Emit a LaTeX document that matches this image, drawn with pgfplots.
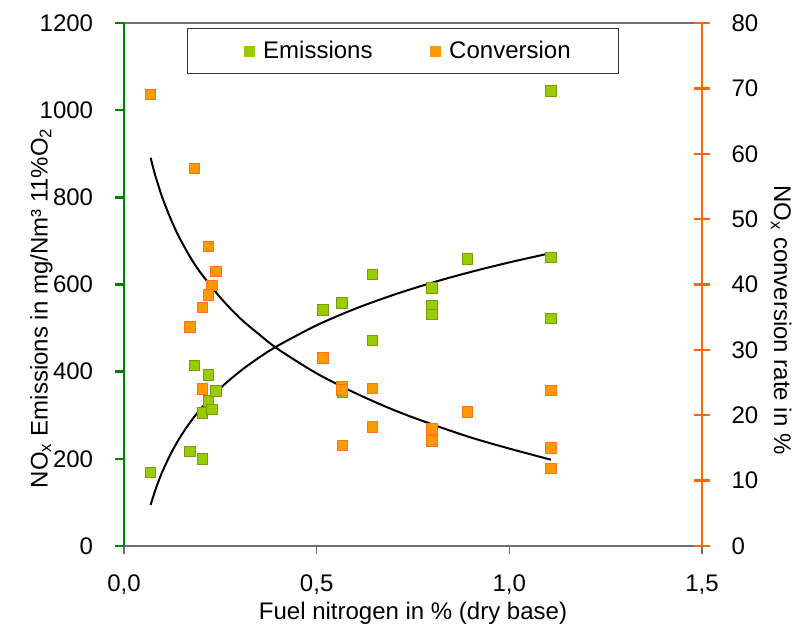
\documentclass[border=0pt]{standalone}
\usepackage{fontspec}
\setmainfont{Liberation Sans}
\usepackage{pgfplots}
\pgfplotsset{compat=1.18}
\definecolor{axgreen}{HTML}{008000}
\definecolor{axorange}{HTML}{FF6600}
\definecolor{axgray}{HTML}{707070}
\definecolor{mkgreen}{HTML}{99CC00}
\definecolor{mkgreenb}{HTML}{7A9A10}
\definecolor{mkorange}{HTML}{FF9900}
\definecolor{mkorangeb}{HTML}{FF7020}
\begin{document}
\fontsize{18}{21.6}\selectfont
\begin{tikzpicture}
\useasboundingbox (-93pt,-64.5pt) rectangle (507pt,409.5pt);
\pgfplotsset{
 common/.style={
  scale only axis, width=433.5pt, height=392.25pt, at={(0pt,0pt)}, anchor=south west,
  xmin=0, xmax=1.5,
  /pgf/number format/assume math mode=true,
 }
}
% x axis (bottom and top lines, gray ticks)
\begin{axis}[common,
  ymin=0, ymax=1,
  axis x line*=box, axis y line=none,
  xtick={0,0.5,1,1.5}, xticklabels={{0,0},{0,5},{1,0},{1,5}},
  xtick pos=left,
  x axis line style={axgray, line width=1.4pt, -},
  every tick/.style={axgray, line width=1pt},
  tick align=outside, major tick length=6pt,
  xticklabel style={anchor=base, inner sep=0pt, yshift=-27.75pt},
  xlabel={Fuel nitrogen in \% (dry base)},
  xlabel style={at={(axis description cs:0.5,-0.1396)}, anchor=base},
]
\end{axis}
% left axis: emissions
\begin{axis}[common,
  ymin=0, ymax=1200,
  axis x line=none, axis y line*=left,
  ytick pos=left,
  ytick={0,200,400,600,800,1000,1200},
  yticklabels={0,200,400,600,800,1000,1200},
  y axis line style={axgreen, line width=1.4pt, -},
  every tick/.style={axgreen, line width=1.8pt},
  tick align=outside, major tick length=6.5pt,
  yticklabel style={anchor=east, inner sep=0pt, xshift=-16.5pt},
  ylabel={NO\textsubscript{x} Emissions in mg/Nm³ 11\%O\textsubscript{2}},
  ylabel style={at={(axis description cs:-0.143,0.455)}, anchor=center},
]
\addplot[only marks, mark=square*, mark size=3.9pt,
  mark options={fill=mkgreen, draw=mkgreenb, line width=0.6pt}]
  coordinates {
  (0.069,169) (0.171,217) (0.183,414) (0.203,305) (0.203,200) (0.219,393)
  (0.219,333) (0.228,314) (0.239,356) (0.516,542) (0.565,558) (0.567,352)
  (0.645,623) (0.645,472) (0.799,592) (0.799,552) (0.799,532) (0.891,659)
  (1.108,1044) (1.108,662) (1.108,522)
  };
\addplot[black, line width=1.5pt, no marks, smooth]
  coordinates {
  (0.069,94.1) (0.08,124.8) (0.09,149.4) (0.1,171.3) (0.12,209.3) (0.14,241.4)
  (0.16,269.2) (0.18,293.7) (0.2,315.6) (0.25,362.1) (0.3,400.0) (0.35,432.1)
  (0.4,459.9) (0.5,506.4) (0.6,544.4) (0.7,576.4) (0.8,604.3) (0.9,628.8)
  (1.0,650.7) (1.108,672.1)
  };
\end{axis}
% right axis: conversion
\begin{axis}[common,
  ymin=0, ymax=80,
  axis x line=none, axis y line*=right,
  ytick pos=right,
  ytick={0,10,20,30,40,50,60,70,80},
  yticklabels={0,10,20,30,40,50,60,70,80},
  y axis line style={axorange, line width=1.4pt, -},
  every tick/.style={axorange, line width=1.8pt},
  tick align=center, major tick length=12pt,
  yticklabel style={anchor=west, inner sep=0pt, xshift=16pt},
  ylabel={NO\textsubscript{x} conversion rate in \%},
  ylabel style={at={(axis description cs:1.137,0.432)}, anchor=center, rotate=180},
  legend columns=2,
  legend style={at={(axis description cs:0.1095,0.9899)}, anchor=north west,
    draw=black!80, line width=0.9pt, inner xsep=34pt, inner ysep=6.9pt,
    /tikz/every even column/.append style={column sep=33pt}},
]
\addlegendimage{legend image code/.code={\path (-7.8pt,0pt) (11.8pt,0pt); \fill[mkgreen] (0pt,-3.6pt) rectangle (7.3pt,3.6pt);}}
\addlegendentry{Emissions}
\addlegendimage{legend image code/.code={\path (-7.8pt,0pt) (11.8pt,0pt); \fill[mkorange] (0pt,-3.6pt) rectangle (7.3pt,3.6pt);}}
\addlegendentry{Conversion}
\addplot[forget plot, only marks, mark=square*, mark size=3.9pt,
  mark options={fill=mkorange, draw=mkorangeb, line width=0.6pt}]
  coordinates {
  (0.069,69.1) (0.183,57.8) (0.219,45.8) (0.239,42.0) (0.228,39.9) (0.219,38.4)
  (0.203,36.5) (0.171,33.5) (0.203,24.0) (0.516,28.8) (0.565,24.4) (0.565,23.9)
  (0.645,24.1) (0.645,18.2) (0.567,15.4) (0.799,17.9) (0.799,16.1) (0.891,20.5)
  (1.108,23.8) (1.108,15.0) (1.108,11.9)
  };
\addplot[forget plot, black, line width=1.5pt, no marks, smooth]
  coordinates {
  (0.069,59.4) (0.08,56.9) (0.09,55.0) (0.1,53.2) (0.12,50.2) (0.14,47.6)
  (0.16,45.4) (0.18,43.4) (0.2,41.7) (0.25,38.0) (0.3,34.9) (0.35,32.4)
  (0.4,30.1) (0.5,26.4) (0.6,23.4) (0.7,20.8) (0.8,18.6) (0.9,16.6)
  (1.0,14.9) (1.108,13.2)
  };
\end{axis}
\end{tikzpicture}
\end{document}
